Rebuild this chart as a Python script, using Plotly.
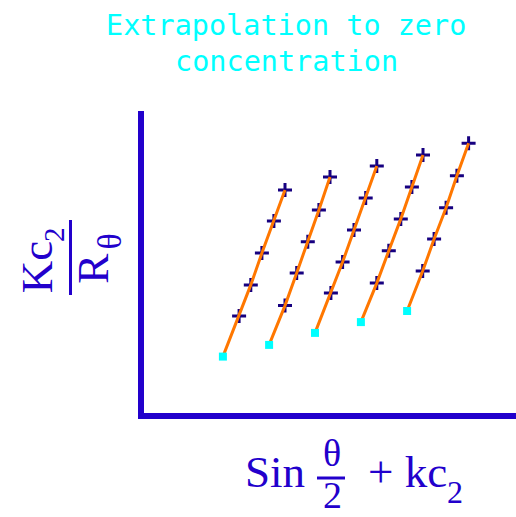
import plotly.graph_objects as go

# Zimm-style construction: five scattering-angle series, each with five measured
# concentrations plus the point extrapolated to zero concentration.
zero_conc_x = [2.63, 4.17, 5.70, 7.23, 8.77]
zero_conc_y = [1.88, 2.27, 2.67, 3.03, 3.40]

measured_x = [
    [3.17, 3.56, 3.93, 4.33, 4.70],
    [4.70, 5.09, 5.46, 5.83, 6.20],
    [6.23, 6.62, 7.00, 7.39, 7.76],
    [7.76, 8.16, 8.56, 8.93, 9.30],
    [9.29, 9.67, 10.07, 10.43, 10.82],
]
measured_y = [
    [3.23, 4.27, 5.33, 6.40, 7.43],
    [3.58, 4.67, 5.71, 6.77, 7.87],
    [4.00, 5.03, 6.10, 7.17, 8.23],
    [4.33, 5.41, 6.47, 7.53, 8.60],
    [4.73, 5.80, 6.84, 7.91, 8.99],
]

title_lines = ["Extrapolation to zero", "concentration"]

AXIS_BLUE = "#2200CC"
CROSS_NAVY = "#160080"
ORANGE = "#FF7700"
CYAN = "#00FFFF"

W, H = 516, 517
ML, MR, MT, MB = 144, 0, 111, 104
PW, PH = W - ML - MR, H - MT - MB


def px(x):
    """Horizontal pixel position -> paper coordinate."""
    return (x - ML) / PW


def py(y):
    """Vertical pixel position -> paper coordinate."""
    return (H - MB - y) / PH


fig = go.Figure()

# measured points (drawn first so the fitted lines run over them)
for xs, ys in zip(measured_x, measured_y):
    fig.add_trace(go.Scatter(
        x=xs, y=ys, mode="markers",
        marker=dict(symbol="cross-thin", size=10,
                    line=dict(color=CROSS_NAVY, width=3)),
        hoverinfo="skip",
    ))

# lines from the zero-concentration value through the measurements
for x0, y0, xs, ys in zip(zero_conc_x, zero_conc_y, measured_x, measured_y):
    fig.add_trace(go.Scatter(
        x=[x0] + xs, y=[y0] + ys, mode="lines",
        line=dict(color=ORANGE, width=3),
        hoverinfo="skip",
    ))

# extrapolated zero-concentration points
fig.add_trace(go.Scatter(
    x=zero_conc_x, y=zero_conc_y, mode="markers",
    marker=dict(symbol="square", size=8, color=CYAN, line=dict(width=0)),
    hoverinfo="skip",
))


def serif(size):
    return dict(family="Liberation Serif", size=size, color=AXIS_BLUE)


title_font = dict(family="DejaVu Sans Mono", size=28.5, color=CYAN)

annotations = [
    dict(text=title_lines[0], x=px(286), y=py(25.8), font=title_font),
    dict(text=title_lines[1], x=px(286.5), y=py(61.4), font=title_font),
    # x axis label: Sin θ/2 + kc2
    dict(text="Sin", x=px(274.5), y=py(471.8), font=serif(45)),
    dict(text="θ", x=px(332), y=py(452.5), font=serif(38)),
    dict(text="2", x=px(332.5), y=py(495.4), font=serif(38)),
    dict(text="+ kc", x=px(407.5), y=py(471.8), font=serif(45)),
    dict(text="2", x=px(455), y=py(492.2), font=serif(32)),
    # y axis label: Kc2 / Rθ, rotated
    dict(text="Kc", x=px(36.8), y=py(267.5), textangle=-90, font=serif(45)),
    dict(text="2", x=px(53.5), y=py(234.5), textangle=-90, font=serif(29)),
    dict(text="R", x=px(92.8), y=py(269), textangle=-90, font=serif(45)),
    dict(text="θ", x=px(108.5), y=py(242), textangle=-90, font=serif(34)),
]
for a in annotations:
    a.update(xref="paper", yref="paper", showarrow=False, borderpad=0,
             xanchor="center", yanchor="middle")

shapes = [
    # fraction bar under θ
    dict(type="line", xref="paper", yref="paper",
         x0=px(317), x1=px(345), y0=py(478), y1=py(478),
         line=dict(color=AXIS_BLUE, width=3)),
    # fraction bar of the y label
    dict(type="line", xref="paper", yref="paper",
         x0=px(70.5), x1=px(70.5), y0=py(220), y1=py(295),
         line=dict(color=AXIS_BLUE, width=3)),
]

axis_common = dict(showgrid=False, zeroline=False, showticklabels=False,
                   ticks="", showline=True, linecolor=AXIS_BLUE, linewidth=6,
                   fixedrange=True)

fig.update_layout(
    width=W, height=H,
    margin=dict(l=ML, r=MR, t=MT, b=MB, pad=0),
    paper_bgcolor="white", plot_bgcolor="white",
    showlegend=False,
    xaxis=dict(range=[0, PW / 30], **axis_common),
    yaxis=dict(range=[0, PH / 30], **axis_common),
    annotations=annotations,
    shapes=shapes,
)

fig.write_html("out.html", config=dict(displayModeBar=False))
